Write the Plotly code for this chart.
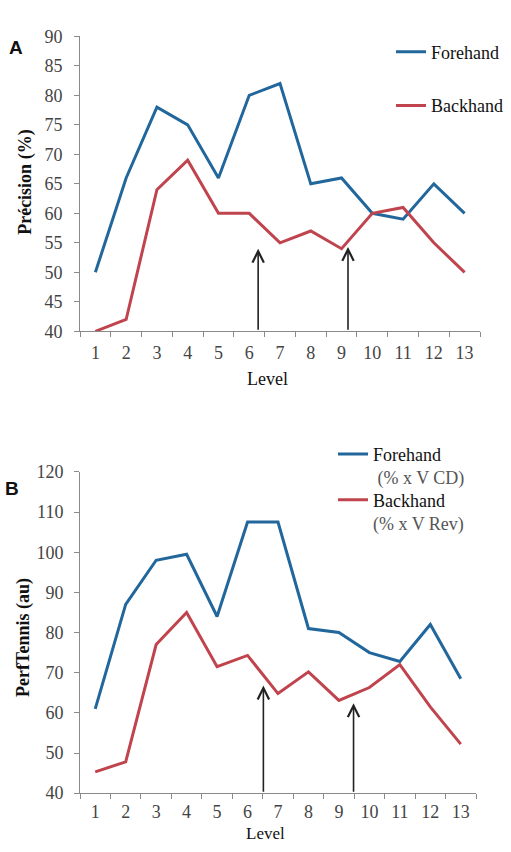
import plotly.graph_objects as go

W, H = 511, 852

levels = [str(i) for i in range(1, 14)]

# Panel A: Precision (%)
prec_forehand = [50, 66, 78, 75, 66, 80, 82, 65, 66, 60, 59, 65, 60]
prec_backhand = [40, 42, 64, 69, 60, 60, 55, 57, 54, 60, 61, 55, 50]

# Panel B: PerfTennis (au)
perf_forehand = [61, 87, 98, 99.5, 84, 107.5, 107.5, 81, 80, 75, 72.8, 82, 68.5]
perf_backhand = [45.3, 47.8, 77, 85, 71.5, 74.3, 64.8, 70.2, 63.1, 66.3, 72, 61.5, 52.2]

# Arrow positions (level position, tip value)
arrows_a = [(6.29, 54.0), (9.21, 54.3)]
arrows_b = [(6.52, 66.8), (9.48, 62.4)]

BLUE = "#22679c"
RED = "#c0444d"
SERIF = "Liberation Serif"

def px(x):
    return x / W

def py(y):
    return 1 - y / H

fig = go.Figure()

fig.add_trace(go.Scatter(x=levels, y=prec_forehand, mode="lines", name="Forehand",
                         line=dict(color=BLUE, width=3), xaxis="x", yaxis="y", legend="legend"))
fig.add_trace(go.Scatter(x=levels, y=prec_backhand, mode="lines", name="Backhand",
                         line=dict(color=RED, width=3), xaxis="x", yaxis="y", legend="legend2"))
fig.add_trace(go.Scatter(x=levels, y=perf_forehand, mode="lines",
                         name="Forehand<br><span style='color:#555'> (% x V CD)</span>",
                         line=dict(color=BLUE, width=3), xaxis="x2", yaxis="y2", legend="legend3"))
fig.add_trace(go.Scatter(x=levels, y=perf_backhand, mode="lines",
                         name="Backhand<br><span style='color:#555'>(% x V Rev)</span>",
                         line=dict(color=RED, width=3), xaxis="x2", yaxis="y2", legend="legend4"))

axis_common = dict(showline=True, linecolor="#8a8a8a", linewidth=1, ticks="outside",
                   ticklen=5, tickcolor="#8a8a8a", showgrid=False, zeroline=False,
                   tickfont=dict(family=SERIF, size=18, color="#444"))

xa = dict(axis_common, type="category", tickson="boundaries", range=[-0.5, 12.5])
fig.update_layout(
    xaxis=dict(xa, domain=[px(80), px(480)], anchor="y", ticklabelstandoff=5),
    yaxis=dict(axis_common, domain=[py(329), py(27)], range=[40, 90], dtick=5,
               anchor="x", ticklabelstandoff=8),
    xaxis2=dict(xa, domain=[px(80), px(476)], anchor="y2", ticklabelstandoff=2),
    yaxis2=dict(axis_common, domain=[py(802), py(473)], range=[40, 120], dtick=10,
                anchor="x2", ticklabelstandoff=7),
)

leg_common = dict(font=dict(family=SERIF, size=18, color="#111"), bgcolor="rgba(0,0,0,0)",
                  xanchor="left", borderwidth=0)
fig.update_layout(
    legend=dict(leg_common, x=px(391), y=py(43), yanchor="middle"),
    legend2=dict(leg_common, x=px(391), y=py(98), yanchor="middle"),
    legend3=dict(leg_common, x=px(333), y=py(436), yanchor="top", valign="top"),
    legend4=dict(leg_common, x=px(333), y=py(483), yanchor="top", valign="top"),
)

annotations = []
for xpos, tip in arrows_a:
    annotations.append(dict(x=xpos - 1, y=tip, ax=xpos - 1, ay=40, xref="x", yref="y",
                            axref="x", ayref="y", showarrow=True, arrowhead=5,
                            arrowsize=1.4, arrowwidth=1.6, arrowcolor="#222", text=""))
for xpos, tip in arrows_b:
    annotations.append(dict(x=xpos - 1, y=tip, ax=xpos - 1, ay=40, xref="x2", yref="y2",
                            axref="x2", ayref="y2", showarrow=True, arrowhead=5,
                            arrowsize=1.4, arrowwidth=1.6, arrowcolor="#222", text=""))

def label(text, x, y, size, bold=False, family=SERIF, angle=0, color="#111"):
    t = f"<b>{text}</b>" if bold else text
    return dict(text=t, x=px(x), y=py(y), xref="paper", yref="paper", showarrow=False,
                xanchor="center", yanchor="middle", textangle=angle,
                font=dict(family=family, size=size, color=color))

annotations += [
    label("A", 16, 38, 19, bold=True, family="Liberation Sans"),
    label("B", 12, 490, 19, bold=True, family="Liberation Sans"),
    label("Précision (%)", 26, 177, 18, bold=True, angle=-90),
    label("PerfTennis (au)", 24, 643, 18, bold=True, angle=-90),
    label("Level", 267, 378, 18),
    label("Level", 265, 843, 17),
]

fig.update_layout(width=W, height=H, margin=dict(l=0, r=0, t=0, b=0),
                  paper_bgcolor="white", plot_bgcolor="white", annotations=annotations,
                  showlegend=True)

fig.write_html("out.html")
